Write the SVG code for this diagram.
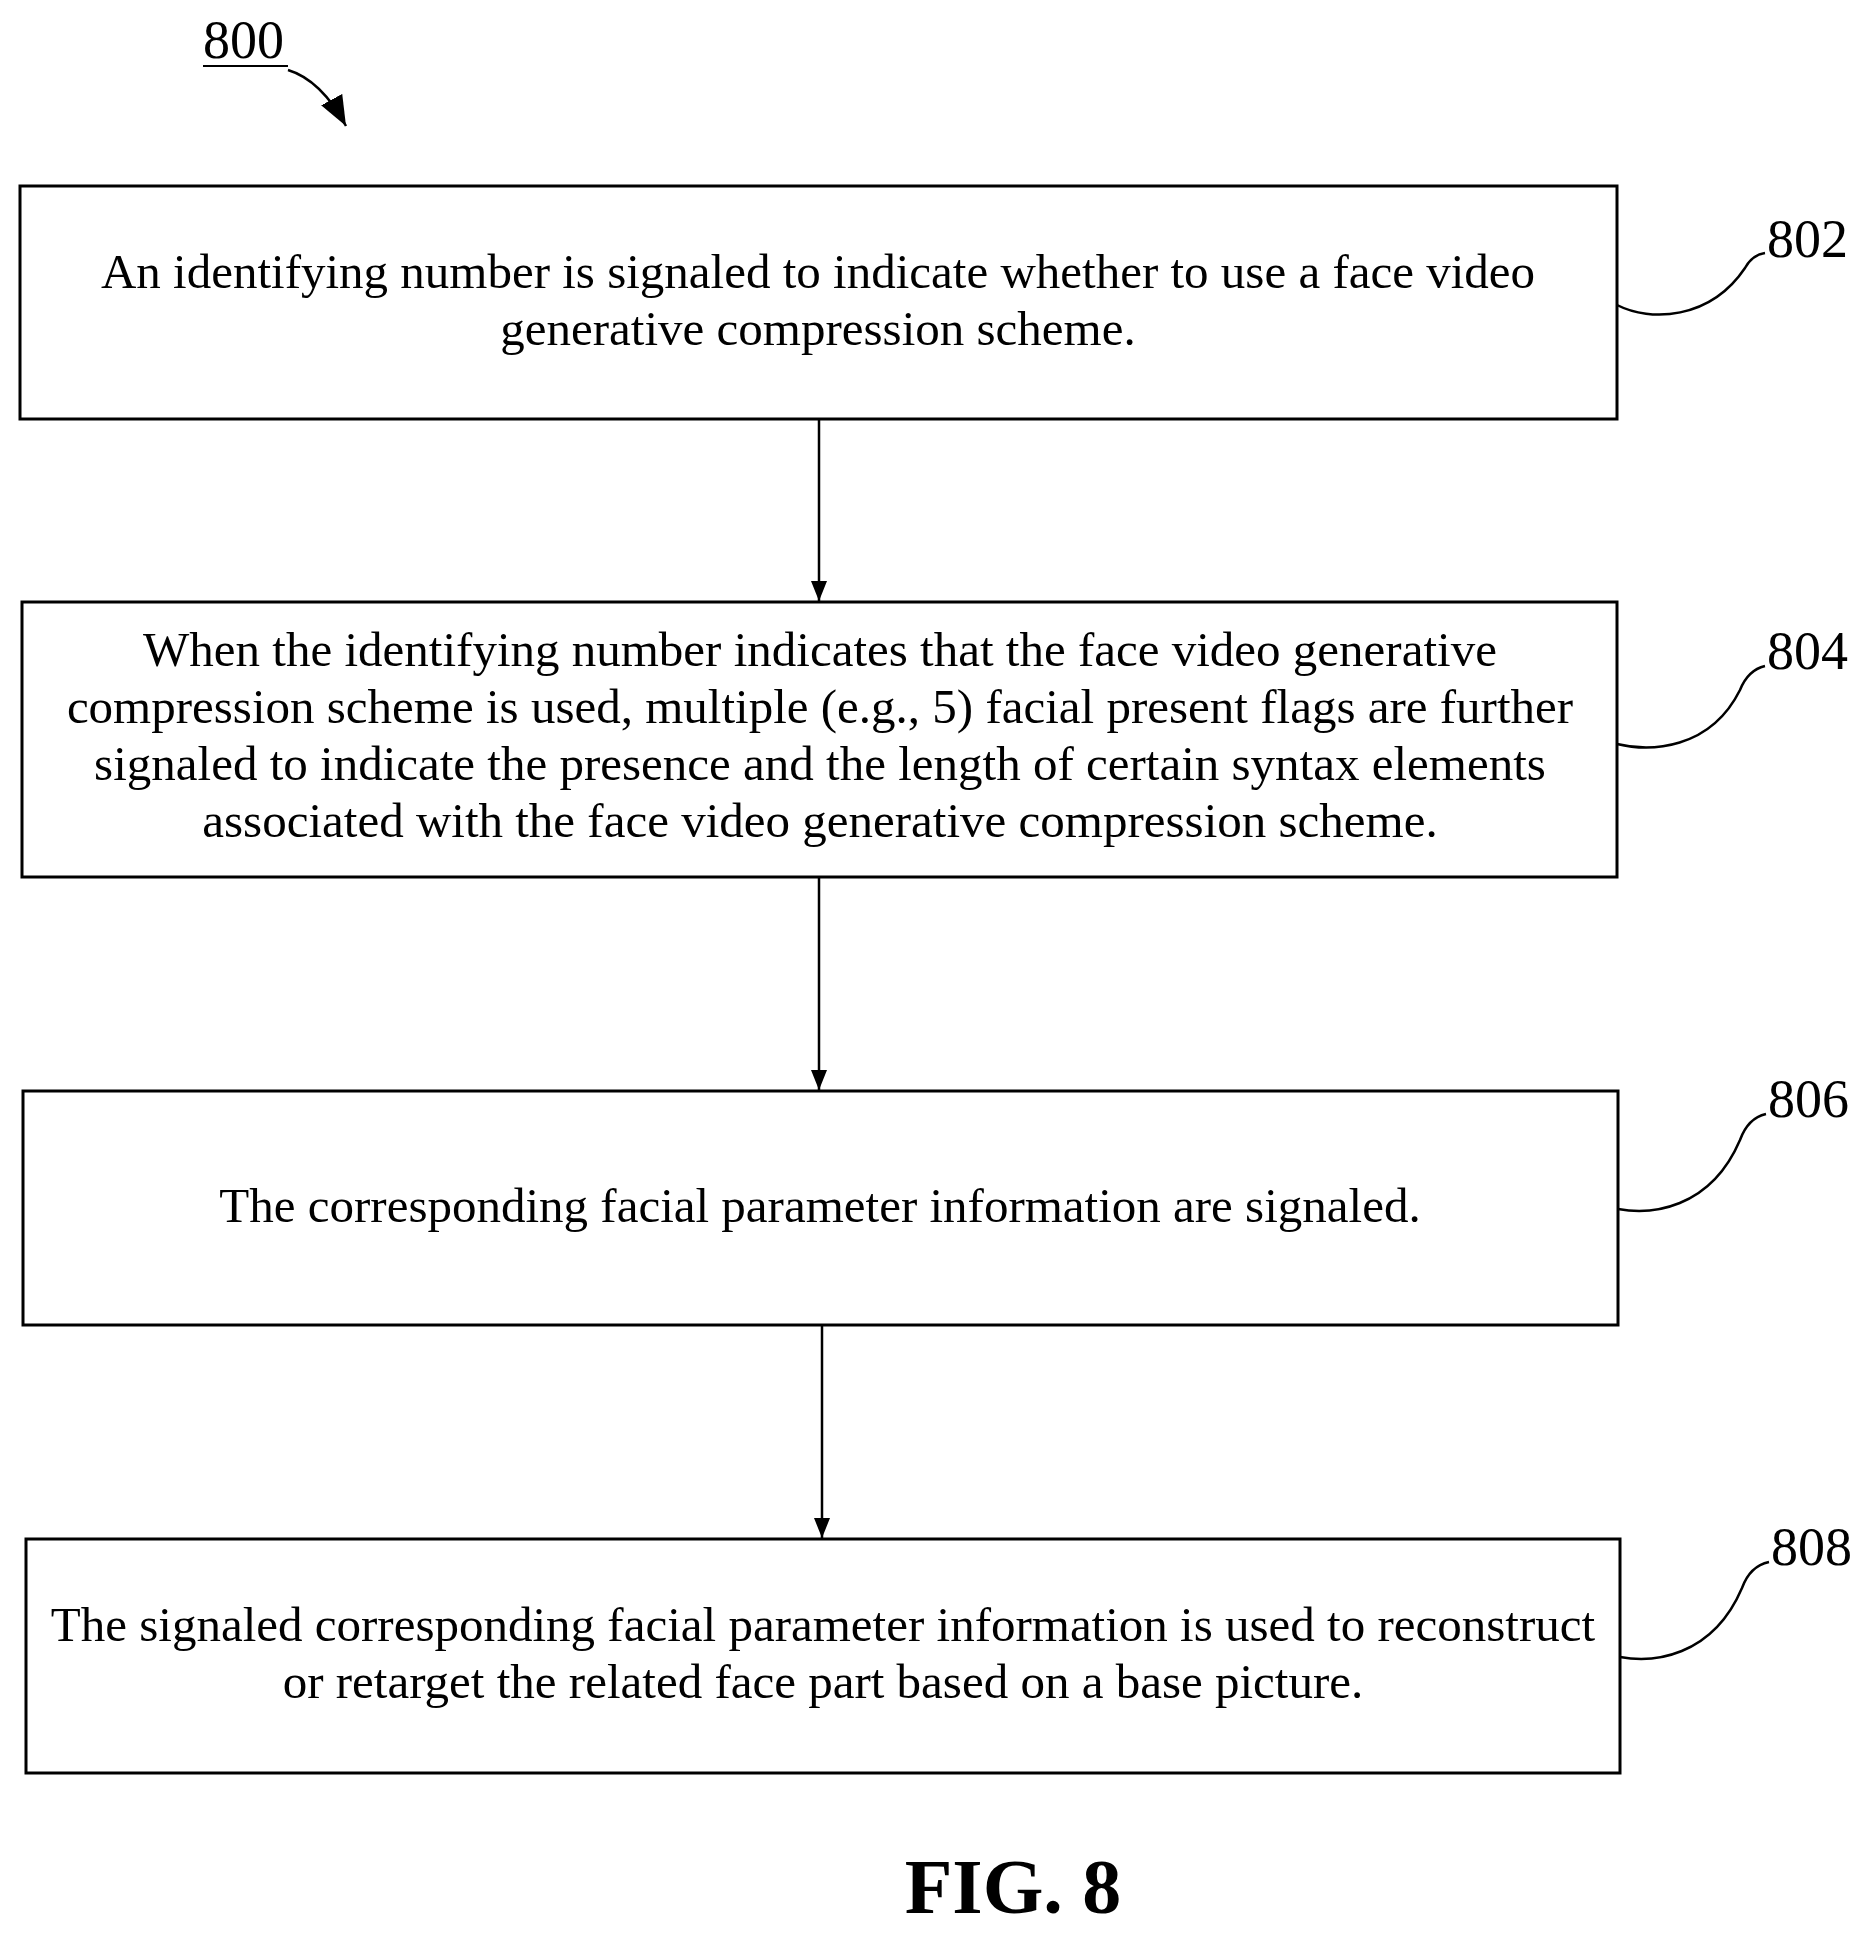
<svg xmlns="http://www.w3.org/2000/svg" width="1875" height="1934" viewBox="0 0 1875 1934">
<defs>
<style>
.box{fill:#fff;stroke:#000;stroke-width:3}
.t{font-family:"Liberation Serif",serif;font-size:49px;text-anchor:middle;fill:#000}
.lbl{font-family:"Liberation Serif",serif;font-size:54px;fill:#000}
.ln{fill:none;stroke:#000;stroke-width:2.5}
</style>
<marker id="ah" viewBox="0 0 20 16" refX="20" refY="8" markerWidth="20" markerHeight="16" markerUnits="userSpaceOnUse" orient="auto"><path d="M0,0 L20,8 L0,16 Z" fill="#000"/></marker>
<marker id="ah2" viewBox="0 0 30 24" refX="30" refY="12" markerWidth="30" markerHeight="24" markerUnits="userSpaceOnUse" orient="auto"><path d="M0,0 L30,12 L0,24 Z" fill="#000"/></marker>
</defs>
<rect width="1875" height="1934" fill="#fff"/>
<g id="title">
<text class="lbl" x="203" y="58">800</text>
<line x1="203" y1="66" x2="288" y2="66" stroke="#000" stroke-width="2"/>
<path class="ln" d="M288,70 Q321,80 346,126" marker-end="url(#ah2)"/>
</g>
<g id="connectors">
<line class="ln" x1="819" y1="419" x2="819" y2="601" marker-end="url(#ah)"/>
<line class="ln" x1="819" y1="877" x2="819" y2="1090" marker-end="url(#ah)"/>
<line class="ln" x1="822" y1="1325" x2="822" y2="1538" marker-end="url(#ah)"/>
</g>
<g id="n802">
<rect class="box" x="20" y="186" width="1597" height="233"/>
<text class="t" x="818" y="288">An identifying number is signaled to indicate whether to use a face video</text>
<text class="t" x="818" y="345">generative compression scheme.</text>
<path class="ln" d="M1617,305 C1650,322 1710,320 1745,268 Q1752,255 1765,253"/>
<text class="lbl" x="1767" y="257">802</text>
</g>
<g id="n804">
<rect class="box" x="22" y="602" width="1595" height="275"/>
<text class="t" x="820" y="666">When the identifying number indicates that the face video generative</text>
<text class="t" x="820" y="723">compression scheme is used, multiple (e.g., 5) facial present flags are further</text>
<text class="t" x="820" y="780">signaled to indicate the presence and the length of certain syntax elements</text>
<text class="t" x="820" y="837">associated with the face video generative compression scheme.</text>
<path class="ln" d="M1617,744 C1650,752 1710,750 1740,690 Q1748,670 1765,666"/>
<text class="lbl" x="1767" y="669">804</text>
</g>
<g id="n806">
<rect class="box" x="23" y="1091" width="1595" height="234"/>
<text class="t" x="820" y="1222">The corresponding facial parameter information are signaled.</text>
<path class="ln" d="M1618,1209 C1650,1215 1710,1210 1740,1140 Q1748,1118 1766,1114"/>
<text class="lbl" x="1768" y="1117">806</text>
</g>
<g id="n808">
<rect class="box" x="26" y="1539" width="1594" height="234"/>
<text class="t" x="823" y="1641">The signaled corresponding facial parameter information is used to reconstruct</text>
<text class="t" x="823" y="1698">or retarget the related face part based on a base picture.</text>
<path class="ln" d="M1620,1657 C1652,1663 1712,1658 1742,1588 Q1750,1566 1769,1562"/>
<text class="lbl" x="1771" y="1565">808</text>
</g>
<text x="1013" y="1913" style="font-family:'Liberation Serif',serif;font-size:78px;font-weight:bold;text-anchor:middle">FIG. 8</text>
</svg>
